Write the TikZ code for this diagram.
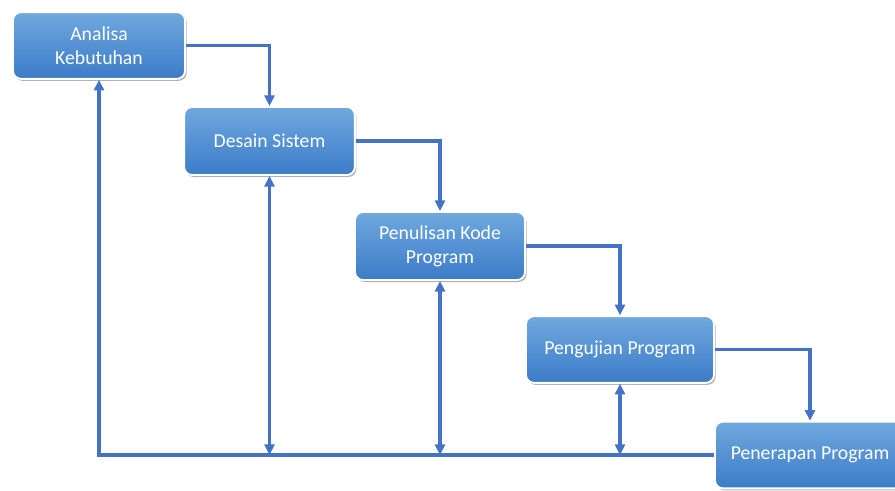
\documentclass[tikz,border=0pt]{standalone}
\usepackage{fontspec}
\setmainfont{Carlito}
\usetikzlibrary{arrows.meta,shadows}
\definecolor{boxtop}{HTML}{6FA9DE}
\definecolor{boxbot}{HTML}{3C7BC8}
\definecolor{linec}{HTML}{4472C4}
\tikzset{
  procbox/.style={rectangle, rounded corners=6pt, draw=white, line width=1.4pt,
    top color=boxtop, bottom color=boxbot, text=white, align=center, inner sep=0pt,
    font=\fontsize{14.8}{18}\selectfont,
    drop shadow={shadow xshift=1.2pt, shadow yshift=-1.5pt, fill=black, opacity=0.3}},
  conn/.style={draw=linec, line width=2.5pt},
  tip/.style={-{Triangle[length=8pt,width=7.5pt]}},
  dtip/.style={{Triangle[length=8pt,width=7.5pt]}-{Triangle[length=8pt,width=7.5pt]}}
}
\begin{document}
\begin{tikzpicture}[x=0.75pt,y=-0.75pt]
\useasboundingbox (0,0) rectangle (895,490);
\fill[white] (0,0) rectangle (895,490);
\node[procbox, minimum width=129pt, minimum height=50pt] (b1) at (99,45.5) {Analisa\\Kebutuhan};
\node[procbox, minimum width=128pt, minimum height=51pt] (b2) at (269.5,141) {Desain Sistem};
\node[procbox, minimum width=127.5pt, minimum height=51pt] (b3) at (440,246) {Penulisan Kode\\Program};
\node[procbox, minimum width=141pt, minimum height=50pt] (b4) at (620,349.5) {Pengujian Program};
\node[procbox, minimum width=142.5pt, minimum height=50pt] (b5) at (810,455) {Penerapan Program};
\draw[conn,tip] (b1.east) -| (b2.north);
\draw[conn,tip] (b2.east) -| (b3.north);
\draw[conn,tip] (b3.east) -| (b4.north);
\draw[conn,tip] (b4.east) -| (b5.north);
\coordinate (c1) at (b1.south |- b5.west);
\coordinate (c2) at (b2.south |- b5.west);
\coordinate (c3) at (b3.south |- b5.west);
\coordinate (c4) at (b4.south |- b5.west);
\draw[conn,tip] (b5.west) -- (c1) -- (b1.south);
\draw[conn,dtip] (c2) -- (b2.south);
\draw[conn,dtip] (c3) -- (b3.south);
\draw[conn,dtip] (c4) -- (b4.south);
\end{tikzpicture}
\end{document}
